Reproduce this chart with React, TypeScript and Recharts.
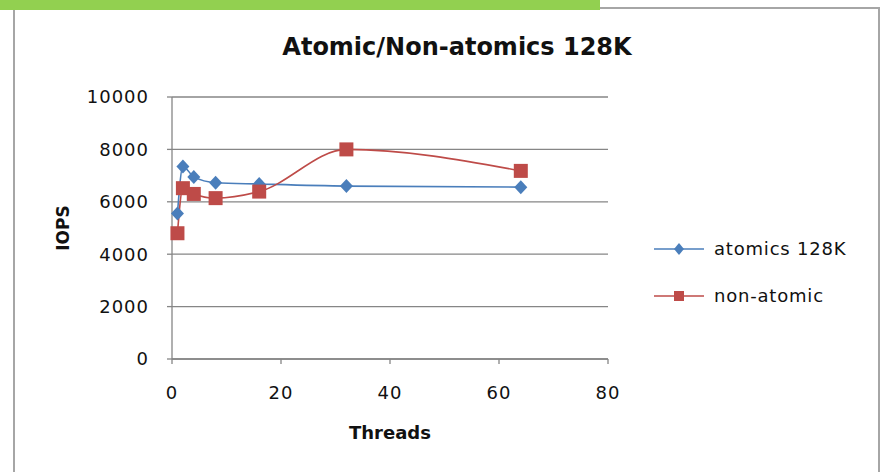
import React from 'react';
import { LineChart, Line, XAxis, YAxis, CartesianGrid } from 'recharts';

const threads = [1, 2, 4, 8, 16, 32, 64];
const atomics128K = [5550, 7350, 6950, 6730, 6680, 6600, 6560];
const nonAtomic = [4800, 6520, 6300, 6140, 6390, 8000, 7180];
const xTicks = [0, 20, 40, 60, 80];
const yTicks = [0, 2000, 4000, 6000, 8000, 10000];
const seriesNames = ['atomics 128K', 'non-atomic'];
const title = 'Atomic/Non-atomics 128K';
const xLabel = 'Threads';
const yLabel = 'IOPS';

const data = threads.map((t, i) => ({ t, a: atomics128K[i], n: nonAtomic[i] }));

const BLUE = '#4a7ebb';
const RED = '#be4b48';
const AXIS = '#868686';
const FONT = '"DejaVu Sans", sans-serif';

const Diamond = (props: any) => {
  const { cx, cy, index } = props;
  if (cx == null || cy == null) return <g key={'d' + index} />;
  const r = 7;
  return (
    <path key={'d' + index} d={`M${cx},${cy - r}L${cx + r - 0.5},${cy}L${cx},${cy + r}L${cx - r + 0.5},${cy}Z`} fill={BLUE} />
  );
};

const Square = (props: any) => {
  const { cx, cy, index } = props;
  if (cx == null || cy == null) return <g key={'s' + index} />;
  const r = 7;
  return <rect key={'s' + index} x={cx - r} y={cy - r} width={2 * r} height={2 * r} fill={RED} />;
};

const LegendBox = () => (
  <div style={{ position: 'absolute', left: 652, top: 225, width: 230, fontFamily: FONT, fontSize: 18, letterSpacing: 0.8, color: '#111' }}>
    {seriesNames.map((name, i) => (
      <div key={name} style={{ display: 'flex', alignItems: 'center', height: 47 }}>
        <svg width={56} height={16} style={{ marginRight: 6 }}>
          <line x1={2} y1={8} x2={52} y2={8} stroke={i === 0 ? BLUE : RED} strokeWidth={1.6} />
          {i === 0 ? (
            <path d="M27,2L32,8L27,14L22,8Z" fill={BLUE} />
          ) : (
            <rect x={22} y={3} width={10} height={10} fill={RED} />
          )}
        </svg>
        <span>{name}</span>
      </div>
    ))}
  </div>
);

export default function App() {
  return (
    <div style={{ position: 'absolute', left: 0, top: 0, width: 885, height: 472, background: '#fff', overflow: 'hidden' }}>
      <div style={{ position: 'absolute', left: 13, top: 7, width: 863, height: 480, border: '2px solid #a6a6a6' }} />
      <div style={{ position: 'absolute', left: 0, top: 0, width: 600, height: 10, background: '#92d050' }} />
      <div
        style={{
          position: 'absolute',
          left: 0,
          width: 914,
          top: 32,
          textAlign: 'center',
          fontFamily: FONT,
          fontWeight: 'bold',
          fontSize: 24,
          color: '#111',
          lineHeight: '30px',
        }}
      >
        {title}
      </div>
      <div style={{ position: 'absolute', left: 0, top: 0 }}>
        <LineChart width={885} height={472} data={data} margin={{ top: 97, right: 277, bottom: 33, left: 42 }}>
          <CartesianGrid vertical={false} stroke={AXIS} strokeWidth={1.3} />
          <XAxis
            dataKey="t"
            type="number"
            domain={[0, 80]}
            ticks={xTicks}
            height={80}
            stroke={AXIS}
            strokeWidth={1.3}
            tickSize={5}
            tickMargin={22}
            tick={{ fill: '#111', fontFamily: FONT, fontSize: 18, letterSpacing: 1 }}
            label={(p: any) => {
              const vb = p.viewBox;
              return (
                <text x={vb.x + vb.width / 2} y={vb.y + 80} textAnchor="middle" fontFamily={FONT} fontWeight="bold" fontSize={18} fill="#111">
                  {xLabel}
                </text>
              );
            }}
          />
          <YAxis
            type="number"
            domain={[0, 10000]}
            ticks={yTicks}
            width={130}
            stroke={AXIS}
            strokeWidth={1.3}
            tickSize={5}
            tickMargin={18}
            tick={{ fill: '#111', fontFamily: FONT, fontSize: 18, letterSpacing: 1 }}
            label={(p: any) => {
              const vb = p.viewBox;
              const cx = vb.x + 21;
              const cy = vb.y + vb.height / 2;
              return (
                <text x={cx} y={cy} transform={`rotate(-90 ${cx} ${cy})`} textAnchor="middle" dominantBaseline="central" fontFamily={FONT} fontWeight="bold" fontSize={17} fill="#111">
                  {yLabel}
                </text>
              );
            }}
          />
          <Line
            dataKey="a"
            name={seriesNames[0]}
            type="monotone"
            stroke={BLUE}
            strokeWidth={1.6}
            dot={Diamond}
            activeDot={false}
            isAnimationActive={false}
          />
          <Line
            dataKey="n"
            name={seriesNames[1]}
            type="monotone"
            stroke={RED}
            strokeWidth={1.6}
            dot={Square}
            activeDot={false}
            isAnimationActive={false}
          />
        </LineChart>
      </div>
      <LegendBox />
    </div>
  );
}
